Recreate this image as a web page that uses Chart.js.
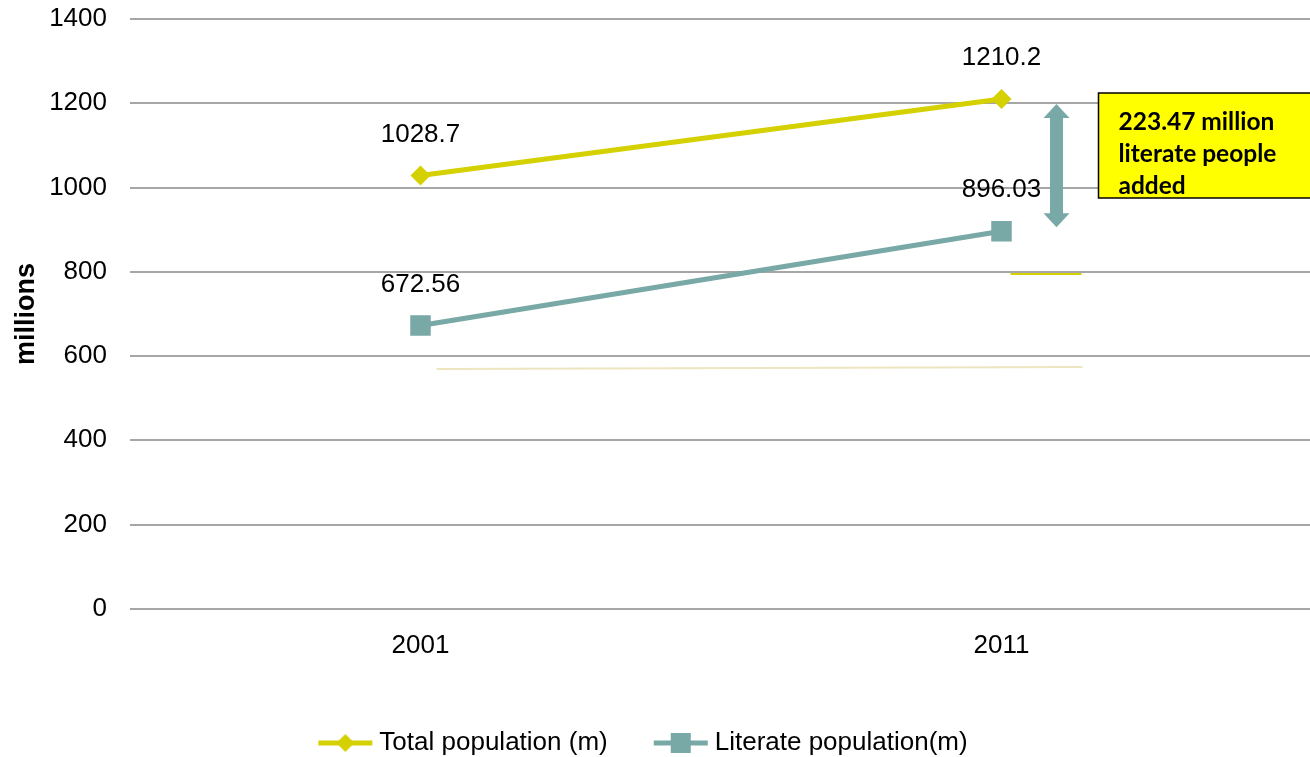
<!DOCTYPE html>
<html>
<head>
<meta charset="utf-8">
<script src="https://cdn.jsdelivr.net/npm/chart.js@4.4.0/dist/chart.umd.min.js"></script>
<style>
body { margin: 0; background: #fff; }
#wrap { width: 1310px; height: 757px; }
</style>
</head>
<body>
<div id="wrap"><canvas id="chart"></canvas></div>
<script>
const years = ['2001', '2011'];
const totalPop = [1028.7, 1210.2];
const literatePop = [672.56, 896.03];
const seriesNames = ['Total population (m)', 'Literate population(m)'];
const yTicks = [0, 200, 400, 600, 800, 1000, 1200, 1400];
const noteLines = ['223.47 million', 'literate people', 'added'];

const yellow = '#d5d000';
const teal = '#78a9a6';
const fontName = '"Liberation Sans", Arial, sans-serif';
const fontSize = 26;

// small picture of line + marker for the legend
function legendIcon(color, style) {
	let c = document.createElement('canvas');
	c.width = 56;
	c.height = 24;
	let g = c.getContext('2d');
	g.strokeStyle = color;
	g.lineWidth = 5;
	g.beginPath();
	g.moveTo(1, 12);
	g.lineTo(55, 12);
	g.stroke();
	g.fillStyle = color;
	g.beginPath();
	if (style == 'diamond') {
		g.moveTo(28, 3); g.lineTo(37, 12); g.lineTo(28, 21); g.lineTo(19, 12);
	} else {
		g.rect(18, 2, 20, 20);
	}
	g.fill();
	return c;
}

const icons = [legendIcon(yellow, 'diamond'), legendIcon(teal, 'square')];

const gridLines = {
	id: 'gridLines',
	beforeDatasetsDraw(chart) {
		let ctx = chart.ctx;
		let y = chart.scales.y;
		let x = chart.scales.x;
		let area = chart.chartArea;
		ctx.save();
		ctx.strokeStyle = '#a6a6a6';
		ctx.lineWidth = 2;
		yTicks.forEach(v => {
			let py = Math.round(y.getPixelForValue(v));
			ctx.beginPath();
			ctx.moveTo(area.left, py);
			ctx.lineTo(chart.width, py);
			ctx.stroke();
		});
		// faint leftover strokes from the original slide
		let x0 = x.getPixelForValue(0);
		let x1 = x.getPixelForValue(1);
		ctx.strokeStyle = '#ece5c0';
		ctx.lineWidth = 2;
		ctx.beginPath();
		ctx.moveTo(x0 + 16, y.getPixelForValue(569));
		ctx.lineTo(x1 + 81, y.getPixelForValue(574));
		ctx.stroke();
		ctx.strokeStyle = yellow;
		ctx.lineWidth = 2;
		ctx.beginPath();
		ctx.moveTo(x1 + 9, y.getPixelForValue(795));
		ctx.lineTo(x1 + 80, y.getPixelForValue(795));
		ctx.stroke();
		ctx.restore();
	}
};

const valueLabels = {
	id: 'valueLabels',
	afterDatasetsDraw(chart) {
		let ctx = chart.ctx;
		ctx.save();
		ctx.font = fontSize + 'px ' + fontName;
		ctx.fillStyle = '#000';
		ctx.textAlign = 'center';
		ctx.textBaseline = 'middle';
		chart.data.datasets.forEach((ds, i) => {
			chart.getDatasetMeta(i).data.forEach((pt, j) => {
				ctx.fillText(String(ds.data[j]), pt.x, pt.y - 41);
			});
		});
		ctx.restore();
	}
};

const noteBox = {
	id: 'noteBox',
	afterDraw(chart) {
		let ctx = chart.ctx;
		let y = chart.scales.y;
		let x = chart.scales.x;
		let ax = x.getPixelForValue(1) + 55;
		let top = y.getPixelForValue(totalPop[1]) + 5;
		let bottom = y.getPixelForValue(literatePop[1]) - 4;
		ctx.save();
		// double arrow
		ctx.fillStyle = teal;
		ctx.beginPath();
		ctx.moveTo(ax, top);
		ctx.lineTo(ax + 13, top + 14);
		ctx.lineTo(ax + 6.5, top + 14);
		ctx.lineTo(ax + 6.5, bottom - 14);
		ctx.lineTo(ax + 13, bottom - 14);
		ctx.lineTo(ax, bottom);
		ctx.lineTo(ax - 13, bottom - 14);
		ctx.lineTo(ax - 6.5, bottom - 14);
		ctx.lineTo(ax - 6.5, top + 14);
		ctx.lineTo(ax - 13, top + 14);
		ctx.closePath();
		ctx.fill();
		// yellow box
		let bx = ax + 42;
		let by = Math.round(y.getPixelForValue(1224));
		let bb = Math.round(y.getPixelForValue(975));
		ctx.fillStyle = '#ffff00';
		ctx.fillRect(bx, by, chart.width - bx + 10, bb - by);
		ctx.strokeStyle = '#000';
		ctx.lineWidth = 1.5;
		ctx.strokeRect(bx, by, chart.width - bx + 10, bb - by);
		ctx.fillStyle = '#000';
		ctx.font = 'bold 24.5px Lato, "Open Sans", sans-serif';
		ctx.textBaseline = 'middle';
		noteLines.forEach((t, i) => {
			ctx.fillText(t, bx + 20, by + 29 + i * 32);
		});
		ctx.restore();
	}
};

let config = {
	type: 'line',
	data: {
		labels: years,
		datasets: [{
			label: seriesNames[0],
			data: totalPop,
			borderColor: yellow,
			backgroundColor: yellow,
			borderWidth: 5,
			pointStyle: 'rectRot',
			pointRadius: 10,
			pointHoverRadius: 10,
			pointBorderWidth: 0
		}, {
			label: seriesNames[1],
			data: literatePop,
			borderColor: teal,
			backgroundColor: teal,
			borderWidth: 5,
			pointStyle: 'rect',
			pointRadius: 14.5,
			pointHoverRadius: 14.5,
			pointBorderWidth: 0
		}]
	},
	options: {
		responsive: true,
		maintainAspectRatio: false,
		animation: false,
		layout: {
			autoPadding: false,
			padding: { left: 0, right: 18, top: 19, bottom: -9 }
		},
		scales: {
			x: {
				offset: true,
				grid: { display: false },
				border: { display: false },
				afterFit: axis => { axis.height += 4; },
				ticks: { color: '#000', font: { family: fontName, size: fontSize }, padding: 13 }
			},
			y: {
				min: 0,
				max: 1400,
				grid: { display: false },
				border: { display: false },
				afterBuildTicks: axis => { axis.ticks = yTicks.map(v => ({ value: v })); },
				afterFit: axis => {
					axis.width = 130;
					axis.paddingTop = 0;
				},
				ticks: {
					color: '#000',
					font: { family: fontName, size: fontSize },
					padding: 15,
					callback: v => String(v)
				},
				title: {
					display: true,
					text: 'millions',
					color: '#000',
					font: { family: fontName, size: 27, weight: 'bold' },
					padding: { top: 10, bottom: 0 }
				}
			}
		},
		plugins: {
			tooltip: { enabled: false },
			legend: {
				position: 'bottom',
				labels: {
					usePointStyle: true,
					pointStyleWidth: 42,
					generateLabels: chart => chart.data.datasets.map((ds, i) => ({
						text: ds.label,
						pointStyle: icons[i],
						fontColor: '#000',
						lineWidth: 0,
						strokeStyle: 'transparent',
						fillStyle: 'transparent',
						datasetIndex: i
					})),
					color: '#000',
					font: { family: fontName, size: fontSize },
					padding: 52
				}
			}
		}
	},
	plugins: [gridLines, valueLabels, noteBox]
};

new Chart(document.getElementById('chart'), config);
</script>
</body>
</html>
